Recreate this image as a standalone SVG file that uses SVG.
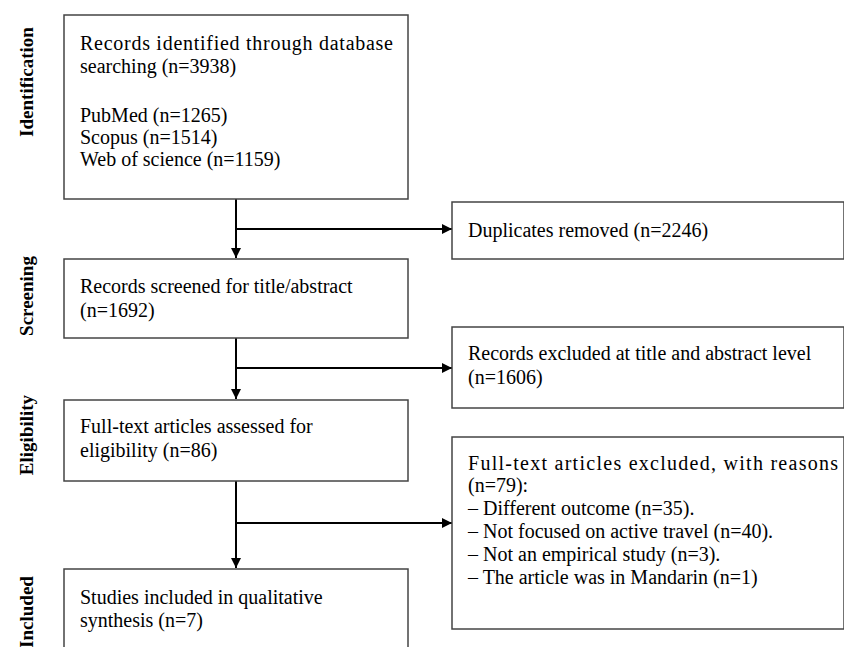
<svg xmlns="http://www.w3.org/2000/svg" width="844" height="647" viewBox="0 0 844 647">
<defs>
<marker id="ah" markerWidth="10" markerHeight="10" refX="10" refY="5" orient="auto" markerUnits="userSpaceOnUse">
<path d="M0,0 L10,5 L0,10 Z" fill="#000"/>
</marker>
<style>
.box{fill:#fff;stroke:#444;stroke-width:1.5}
.t{font-family:"Liberation Serif","Times New Roman",serif;font-size:20px;fill:#000}
.lab{font-family:"Liberation Serif","Times New Roman",serif;font-size:19px;font-weight:bold;fill:#000}
.c{stroke:#000;stroke-width:2;fill:none}
</style>
</defs>
<rect width="844" height="647" fill="#fff"/>
<g id="labels">
<text class="lab" transform="translate(33,82) rotate(-90)" text-anchor="middle">Identification</text>
<text class="lab" transform="translate(33,296) rotate(-90)" text-anchor="middle">Screening</text>
<text class="lab" transform="translate(33,435) rotate(-90)" text-anchor="middle">Eligibility</text>
<text class="lab" transform="translate(33,612) rotate(-90)" text-anchor="middle">Included</text>
</g>
<g id="connectors">
<line class="c" x1="236" y1="199" x2="236" y2="258" marker-end="url(#ah)"/>
<line class="c" x1="236" y1="229" x2="452" y2="229" marker-end="url(#ah)"/>
<line class="c" x1="236" y1="338" x2="236" y2="399" marker-end="url(#ah)"/>
<line class="c" x1="236" y1="368" x2="452" y2="368" marker-end="url(#ah)"/>
<line class="c" x1="236" y1="481" x2="236" y2="568" marker-end="url(#ah)"/>
<line class="c" x1="236" y1="523" x2="452" y2="523" marker-end="url(#ah)"/>
</g>
<g id="identified">
<rect class="box" x="64" y="15" width="344" height="184"/>
<text class="t" x="80" y="50" textLength="313" lengthAdjust="spacing">Records identified through database</text>
<text class="t" x="80" y="73">searching (n=3938)</text>
<text class="t" x="80" y="122">PubMed (n=1265)</text>
<text class="t" x="80" y="144">Scopus (n=1514)</text>
<text class="t" x="80" y="166">Web of science (n=1159)</text>
</g>
<g id="duplicates">
<rect class="box" x="452" y="202" width="392" height="57"/>
<text class="t" x="468" y="237">Duplicates removed (n=2246)</text>
</g>
<g id="screened">
<rect class="box" x="64" y="259" width="344" height="79"/>
<text class="t" x="80" y="293">Records screened for title/abstract</text>
<text class="t" x="80" y="317">(n=1692)</text>
</g>
<g id="excluded1">
<rect class="box" x="452" y="327" width="392" height="81"/>
<text class="t" x="468" y="360">Records excluded at title and abstract level</text>
<text class="t" x="468" y="384">(n=1606)</text>
</g>
<g id="eligibility">
<rect class="box" x="64" y="400" width="344" height="81"/>
<text class="t" x="80" y="433">Full-text articles assessed for</text>
<text class="t" x="80" y="457">eligibility (n=86)</text>
</g>
<g id="excluded2">
<rect class="box" x="452" y="437" width="392" height="192"/>
<text class="t" x="468" y="470" textLength="370" lengthAdjust="spacing">Full-text articles excluded, with reasons</text>
<text class="t" x="468" y="492">(n=79):</text>
<text class="t" x="468" y="515">– Different outcome (n=35).</text>
<text class="t" x="468" y="538">– Not focused on active travel (n=40).</text>
<text class="t" x="468" y="561">– Not an empirical study (n=3).</text>
<text class="t" x="468" y="584">– The article was in Mandarin (n=1)</text>
</g>
<g id="included">
<rect class="box" x="64" y="569" width="344" height="90"/>
<text class="t" x="80" y="604">Studies included in qualitative</text>
<text class="t" x="80" y="627">synthesis (n=7)</text>
</g>
</svg>
